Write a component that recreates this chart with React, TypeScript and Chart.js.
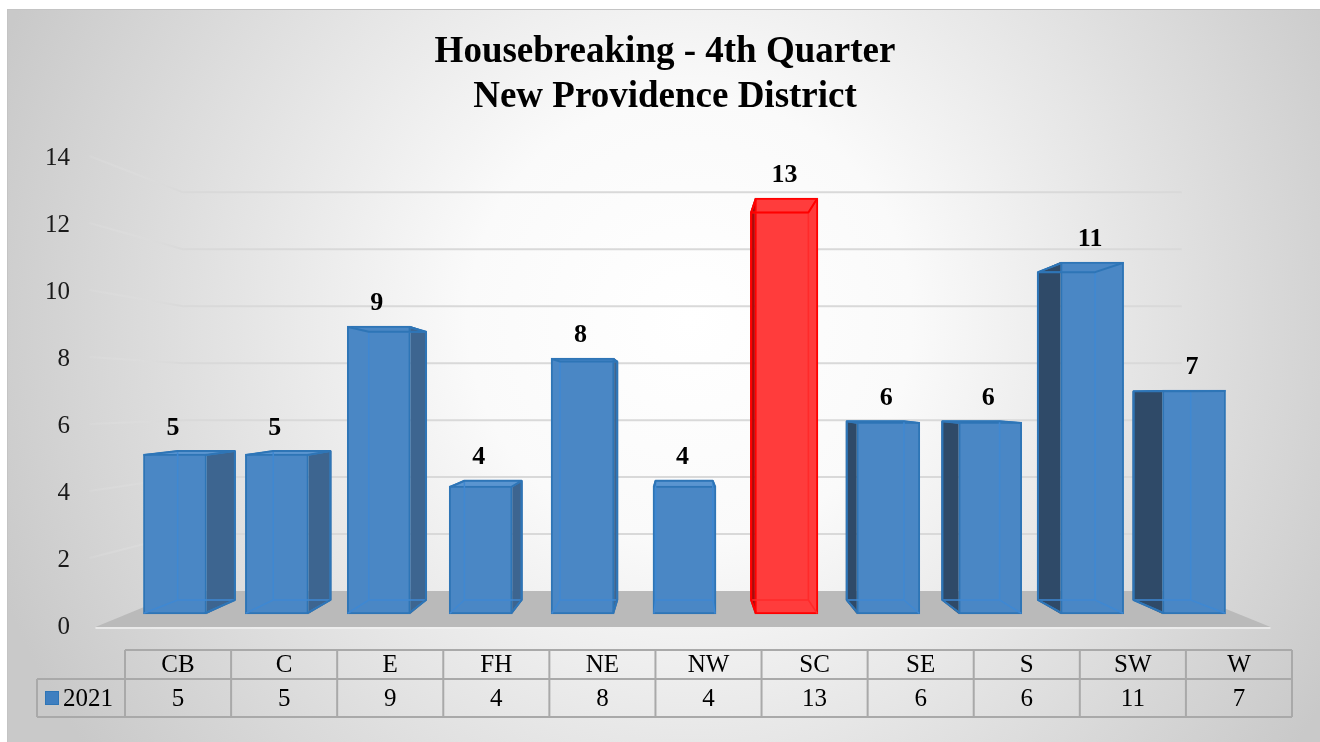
import React, { useEffect, useRef } from 'react';
import { Chart, registerables } from 'chart.js';

Chart.register(...registerables);

// ---------- data ----------
const TITLE_LINES = ['Housebreaking - 4th Quarter', 'New Providence District'];
const CATEGORIES = ['CB', 'C', 'E', 'FH', 'NE', 'NW', 'SC', 'SE', 'S', 'SW', 'W'];
const VALUES_2021 = [5, 5, 9, 4, 8, 4, 13, 6, 6, 11, 7];
const SERIES_NAME = '2021';
const HIGHLIGHT_CATEGORY = 'SC';
const Y_MIN = 0;
const Y_MAX = 14;
const Y_STEP = 2;

// ---------- 3D look parameters (value / index units) ----------
const FRONT_Y_RANGE = { min: -0.406, max: 14.25 };
const BACK_Y_RANGE = { min: -0.906, max: 14.83 };
const VANISH_X_INDEX = 4.95;
const VANISH_Y_VALUE = 7.16;
const BACK_X_RATIO = 0.938;
const WALL_RATIO = 0.85;
const FLOOR_FRONT_INDEX = [-0.78, 10.75];

const SERIF = "'Liberation Serif', 'Times New Roman', serif";

const BLUE = { front: '#4a87c5', edge: '#2e75b6', sideR: '#3d6590', sideL: '#2f4a68', top: '#5a95d0', inner: '#3f88d2' };
const RED = { front: '#ff3c3c', edge: '#ff0000', sideR: '#b81010', sideL: '#a80c0c', top: '#ff5555', inner: '#ff2a2a' };

const paletteFor = (i: number) => (CATEGORIES[i] === HIGHLIGHT_CATEGORY ? RED : BLUE);

const chart3dPlugin = {
  id: 'chart3d',
  beforeDraw(chart: any) {
    const { ctx, width, height } = chart;
    const x = chart.scales.x;
    const y = chart.scales.y;
    const vx = x.getPixelForValue(VANISH_X_INDEX);
    const vy = y.getPixelForValue(VANISH_Y_VALUE);
    const proj = (px: number, py: number) => [vx + WALL_RATIO * (px - vx), vy + WALL_RATIO * (py - vy)];

    ctx.save();
    ctx.fillStyle = '#ffffff';
    ctx.fillRect(0, 0, width, height);
    const g = ctx.createRadialGradient(690, 320, 0, 690, 320, 740);
    g.addColorStop(0, '#ffffff');
    g.addColorStop(0.3, '#fafafa');
    g.addColorStop(1, '#c9c9c9');
    ctx.fillStyle = g;
    ctx.fillRect(7, 9, width - 7, height - 9);
    ctx.strokeStyle = '#c4c4c4';
    ctx.lineWidth = 1;
    ctx.strokeRect(7.5, 9.5, width, height);

    // title
    ctx.fillStyle = '#000';
    ctx.font = `bold 37px ${SERIF}`;
    ctx.textAlign = 'center';
    ctx.textBaseline = 'middle';
    ctx.fillText(TITLE_LINES[0], 665, 52);
    ctx.fillText(TITLE_LINES[1], 665, 97);

    const xl = x.getPixelForValue(FLOOR_FRONT_INDEX[0]);
    const xr = x.getPixelForValue(FLOOR_FRONT_INDEX[1]);
    const y0 = y.getPixelForValue(Y_MIN);

    // gridlines: back wall + left wall
    for (let v = Y_MIN + Y_STEP; v <= Y_MAX; v += Y_STEP) {
      const yf = y.getPixelForValue(v);
      const a = proj(xl, yf);
      const b = proj(xr, yf);
      ctx.strokeStyle = '#d9d9d9';
      ctx.lineWidth = 2;
      ctx.beginPath();
      ctx.moveTo(a[0], a[1]);
      ctx.lineTo(b[0], b[1]);
      ctx.stroke();
      const sx = xl - 6;
      const lg = ctx.createLinearGradient(sx, 0, a[0], 0);
      lg.addColorStop(0, 'rgba(225,225,225,0.2)');
      lg.addColorStop(1, 'rgba(217,217,217,1)');
      ctx.strokeStyle = lg;
      ctx.beginPath();
      ctx.moveTo(sx, yf - 2);
      ctx.lineTo(a[0], a[1]);
      ctx.stroke();
    }

    // floor
    const fb1 = proj(xl, y0);
    const fb2 = proj(xr, y0);
    ctx.fillStyle = '#bababa';
    ctx.beginPath();
    ctx.moveTo(xl, y0);
    ctx.lineTo(xr, y0);
    ctx.lineTo(fb2[0], fb2[1]);
    ctx.lineTo(fb1[0], fb1[1]);
    ctx.closePath();
    ctx.fill();
    ctx.strokeStyle = '#f0f0f0';
    ctx.lineWidth = 1.5;
    ctx.beginPath();
    ctx.moveTo(xl, y0 + 1);
    ctx.lineTo(xr, y0 + 1);
    ctx.stroke();
    ctx.restore();
  },
  beforeDatasetsDraw(chart: any) {
    const { ctx } = chart;
    const x = chart.scales.x;
    const yb = chart.scales.yBack;
    const vx = x.getPixelForValue(VANISH_X_INDEX);
    const meta = chart.getDatasetMeta(0);
    ctx.save();
    meta.data.forEach((el: any, i: number) => {
      const p = el.getProps(['x', 'y', 'base', 'width'], true);
      const pal = paletteFor(i);
      const fl = p.x - p.width / 2;
      const fr = p.x + p.width / 2;
      const bl = vx + BACK_X_RATIO * (fl - vx);
      const br = vx + BACK_X_RATIO * (fr - vx);
      const bt = yb.getPixelForValue(VALUES_2021[i]);
      const bb = yb.getPixelForValue(0);
      // top face
      ctx.fillStyle = pal.top;
      ctx.beginPath();
      ctx.moveTo(fl, p.y);
      ctx.lineTo(fr, p.y);
      ctx.lineTo(br, bt);
      ctx.lineTo(bl, bt);
      ctx.closePath();
      ctx.fill();
      if (fr < vx) {
        ctx.fillStyle = pal.sideR;
        ctx.beginPath();
        ctx.moveTo(fr, p.y);
        ctx.lineTo(br, bt);
        ctx.lineTo(br, bb);
        ctx.lineTo(fr, p.base);
        ctx.closePath();
        ctx.fill();
      } else if (fl > vx) {
        ctx.fillStyle = pal.sideL;
        ctx.beginPath();
        ctx.moveTo(fl, p.y);
        ctx.lineTo(bl, bt);
        ctx.lineTo(bl, bb);
        ctx.lineTo(fl, p.base);
        ctx.closePath();
        ctx.fill();
      }
    });
    ctx.restore();
  },
  afterDatasetsDraw(chart: any) {
    const { ctx, chartArea } = chart;
    const x = chart.scales.x;
    const yb = chart.scales.yBack;
    const vx = x.getPixelForValue(VANISH_X_INDEX);
    const meta = chart.getDatasetMeta(0);
    ctx.save();
    ctx.lineJoin = 'round';
    ctx.lineCap = 'round';
    meta.data.forEach((el: any, i: number) => {
      const p = el.getProps(['x', 'y', 'base', 'width'], true);
      const pal = paletteFor(i);
      const fl = p.x - p.width / 2 + 1;
      const fr = p.x + p.width / 2 - 1;
      const bl = vx + BACK_X_RATIO * (fl - vx);
      const br = vx + BACK_X_RATIO * (fr - vx);
      const bt = yb.getPixelForValue(VALUES_2021[i]);
      const bb = yb.getPixelForValue(0);
      const ft = p.y + 1;
      const fb = p.base - 1;
      ctx.lineWidth = 1.5;
      ctx.strokeStyle = pal.inner;
      ctx.beginPath();
      ctx.rect(bl, bt, br - bl, bb - bt);
      ctx.moveTo(fl, ft); ctx.lineTo(bl, bt);
      ctx.moveTo(fr, ft); ctx.lineTo(br, bt);
      ctx.moveTo(fl, fb); ctx.lineTo(bl, bb);
      ctx.moveTo(fr, fb); ctx.lineTo(br, bb);
      ctx.stroke();
      // outer edges (silhouette)
      ctx.strokeStyle = pal.edge;
      ctx.lineWidth = 2;
      ctx.beginPath();
      ctx.moveTo(fl, ft); ctx.lineTo(bl, bt); ctx.lineTo(br, bt); ctx.lineTo(fr, ft);
      if (fr < vx) { ctx.moveTo(br, bt); ctx.lineTo(br, bb); ctx.lineTo(fr, fb); }
      if (fl > vx) { ctx.moveTo(bl, bt); ctx.lineTo(bl, bb); ctx.lineTo(fl, fb); }
      ctx.stroke();

      // data label
      ctx.fillStyle = '#000';
      ctx.font = `bold 26px ${SERIF}`;
      ctx.textAlign = 'center';
      ctx.textBaseline = 'middle';
      ctx.fillText(String(VALUES_2021[i]), p.x - 2, Math.min(p.y, bt) - 23);
    });

    // data table
    const n = CATEGORIES.length;
    const tl = chartArea.left + 1;
    const tr = 1292;
    const cw = (tr - tl) / n;
    const r0 = 650, r1 = 679, r2 = 717;
    const legendLeft = 37;
    ctx.lineCap = 'butt';
    ctx.lineJoin = 'miter';
    ctx.strokeStyle = '#a9a9a9';
    ctx.lineWidth = 2;
    ctx.beginPath();
    ctx.moveTo(tl, r0); ctx.lineTo(tr, r0);
    ctx.moveTo(legendLeft, r1); ctx.lineTo(tr, r1);
    ctx.moveTo(legendLeft, r2); ctx.lineTo(tr, r2);
    ctx.moveTo(legendLeft, r1); ctx.lineTo(legendLeft, r2);
    for (let c = 0; c <= n; c++) {
      const cx = tl + c * cw;
      ctx.moveTo(cx, r0); ctx.lineTo(cx, r2);
    }
    ctx.stroke();
    ctx.fillStyle = '#000';
    ctx.font = `25px ${SERIF}`;
    ctx.textAlign = 'center';
    ctx.textBaseline = 'middle';
    for (let c = 0; c < n; c++) {
      const cx = tl + (c + 0.5) * cw;
      ctx.fillText(CATEGORIES[c], cx, (r0 + r1) / 2 + 1);
      ctx.fillText(String(VALUES_2021[c]), cx, (r1 + r2) / 2 + 1);
    }
    ctx.fillStyle = '#3f7fc0';
    ctx.fillRect(45, 691, 14, 14);
    ctx.strokeStyle = '#2e75b6';
    ctx.lineWidth = 1;
    ctx.strokeRect(45.5, 691.5, 13, 13);
    ctx.fillStyle = '#000';
    ctx.textAlign = 'left';
    ctx.fillText(SERIES_NAME, 63, (r1 + r2) / 2 + 1);
    ctx.restore();
  },
};

export default function App() {
  const ref = useRef<HTMLCanvasElement | null>(null);
  useEffect(() => {
    if (!ref.current) return;
    const chart = new Chart(ref.current, {
      type: 'bar',
      data: {
        labels: CATEGORIES,
        datasets: [
          {
            label: SERIES_NAME,
            data: VALUES_2021,
            yAxisID: 'yFront',
            backgroundColor: VALUES_2021.map((_, i) => paletteFor(i).front),
            borderColor: VALUES_2021.map((_, i) => paletteFor(i).edge),
            borderWidth: 2,
            borderSkipped: false,
            barThickness: 63,
          } as any,
        ],
      },
      options: {
        responsive: false,
        animation: false,
        layout: { padding: { left: 0, top: 158, right: 75, bottom: 115 } },
        plugins: {
          legend: { display: false },
          title: { display: false },
          tooltip: { enabled: false },
        },
        scales: {
          x: { display: false, offset: true },
          y: {
            position: 'left',
            min: Y_MIN,
            max: Y_MAX,
            ticks: { stepSize: Y_STEP, padding: 54, color: '#1a1a1a', font: { family: SERIF, size: 25 } },
            grid: { display: false, drawTicks: false },
            border: { display: false },
            afterFit: (s: any) => { s.width = 124; },
          },
          yFront: { display: false, min: FRONT_Y_RANGE.min, max: FRONT_Y_RANGE.max },
          yBack: { display: false, min: BACK_Y_RANGE.min, max: BACK_Y_RANGE.max },
        } as any,
      },
      plugins: [chart3dPlugin],
    });
    return () => chart.destroy();
  }, []);
  return (
    <div style={{ position: 'fixed', left: 0, top: 0, width: 1320, height: 742 }}>
      <canvas ref={ref} width={1320} height={742} style={{ display: 'block', width: 1320, height: 742 }} />
    </div>
  );
}
